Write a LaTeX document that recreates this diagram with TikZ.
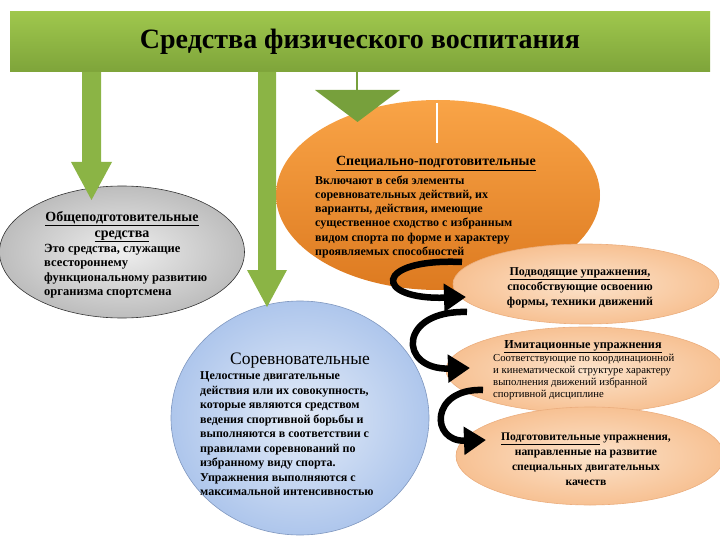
\documentclass[tikz,border=0pt]{standalone}
\usepackage{fontspec}
\setmainfont{Liberation Serif}
\usetikzlibrary{shapes.geometric,arrows.meta}
\definecolor{barTop}{HTML}{9FC74D}
\definecolor{barBot}{HTML}{7EA43A}
\definecolor{arrGreen}{HTML}{8BB445}
\definecolor{arrDark}{HTML}{77A03C}
\definecolor{orTop}{HTML}{F9A447}
\definecolor{orBot}{HTML}{DD7A20}
\definecolor{peachIn}{HTML}{FCE3CB}
\definecolor{peachOut}{HTML}{F7C193}
\definecolor{peachLine}{HTML}{EBAE7E}
\definecolor{greyIn}{HTML}{EEEEEE}
\definecolor{greyOut}{HTML}{BDBDBD}
\definecolor{blueIn}{HTML}{E4ECF8}
\definecolor{blueOut}{HTML}{AEC6EC}
\definecolor{blueLine}{HTML}{7F97BF}
\tikzset{
  oval/.style={ellipse, inner sep=0pt},
  txt/.style={inner sep=0pt},
  curvearrow/.style={line width=6.5pt, -{Triangle[length=22pt,width=27pt]}, black},
  greenarrow/.style={fill=arrGreen},
}
\newcommand{\fsb}[2]{\fontsize{#1}{#2}\selectfont\bfseries}
\newcommand{\fsr}[2]{\fontsize{#1}{#2}\selectfont}
\begin{document}
\begin{tikzpicture}[x=1pt,y=-1pt]
\useasboundingbox (0,0) rectangle (720,540);

% top bar
\node[rectangle, minimum width=700pt, minimum height=60pt, inner sep=0pt,
      top color=barTop, bottom color=barBot, font=\fsb{28}{32}] (bar) at (360,42)
      {Средства физического воспитания};

% orange ellipse
\node[oval, minimum width=324pt, minimum height=190pt, top color=orTop, bottom color=orBot] (orange) at (438,195) {};
\draw[white, line width=2pt] (437,103) coordinate (wl1) -- (437,143) coordinate (wl2);

% grey ellipse
\node[oval, minimum width=245pt, minimum height=132pt, inner color=greyIn, outer color=greyOut, draw=black!80, line width=0.6pt] (grey) at (122,252) {};

% blue ellipse
\node[oval, minimum width=258pt, minimum height=234pt, inner color=blueIn, outer color=blueOut, draw=blueLine, line width=0.6pt] (blue) at (300,418) {};

% peach ellipses
\node[oval, minimum width=266pt, minimum height=80pt, inner color=peachIn, outer color=peachOut, draw=peachLine, line width=0.6pt] (p1) at (586,284) {};
\node[oval, minimum width=278pt, minimum height=86pt, inner color=peachIn, outer color=peachOut, draw=peachLine, line width=0.6pt] (p2) at (585,370) {};
\node[oval, minimum width=268pt, minimum height=98pt, inner color=peachIn, outer color=peachOut, draw=peachLine, line width=0.6pt] (p3) at (590,456) {};

% green block arrows
\fill[greenarrow] (82,72) -- (101,72) -- (101,162) -- (112,162) -- (91.5,200) -- (71,162) -- (82,162) -- cycle;
\fill[greenarrow] (258,72) -- (276,72) -- (276,270) -- (287,270) -- (267,307) -- (247,270) -- (258,270) -- cycle;
\draw[arrDark, line width=2.5pt] (357,72) coordinate (cs) -- (357,92) coordinate (ct);
\fill[arrDark] (315,90) -- (400,90) -- (357.5,122) -- cycle;

% texts
\node[txt, anchor=north, align=center, font=\fsb{14}{16}] (gt) at (122,211)
  {\underline{Общеподготовительные}\\\underline{средства}};
\node[txt, anchor=north west, align=left, font=\fsb{12.5}{14.5}] (gb) at (44,244)
  {Это средства, служащие\\всестороннему\\функциональному развитию\\организма спортсмена};

\node[txt, anchor=north, font=\fsb{14}{16}] (ot) at (436,156.5)
  {\underline{Специально-подготовительные}};
\node[txt, anchor=north west, align=left, font=\fsb{12}{14.2}] (ob) at (315,175.5)
  {Включают в себя элементы\\соревновательных действий, их\\варианты, действия, имеющие\\существенное сходство с избранным\\видом спорта по форме и характеру\\проявляемых способностей};

\node[txt, anchor=north, font=\fsr{17.5}{20}] (bt) at (300,353)
  {Соревновательные};
\node[txt, anchor=north west, align=left, font=\fsb{12}{14.5}] (bb) at (200,371.5)
  {Целостные двигательные\\действия или их совокупность,\\которые являются средством\\ведения спортивной борьбы и\\выполняются в соответствии с\\правилами соревнований по\\избранному виду спорта.\\Упражнения выполняются с\\максимальной интенсивностью};

\node[txt, anchor=north, align=center, font=\fsb{12}{15}] (pt1) at (580,267)
  {\underline{Подводящие упражнения,}\\способствующие освоению\\формы, техники движений};

\node[txt, anchor=north, font=\fsb{12.2}{14}] (pt2) at (583,340)
  {\underline{Имитационные упражнения}};
\node[txt, anchor=north west, align=left, font=\fsr{10.7}{12}] (pb2) at (493,353.5)
  {Соответствующие по координационной\\и кинематической структуре характеру\\выполнения движений избранной\\спортивной дисциплине};

\node[txt, anchor=north, align=center, font=\fsb{11.6}{14.8}] (pt3) at (586,433)
  {\underline{Подготовительные} упражнения,\\направленные на развитие\\специальных двигательных\\качеств};

% curved black arrows
\coordinate (a1s) at (462,262); \coordinate (a1e) at (466,297);
\coordinate (a2s) at (467,312); \coordinate (a2e) at (470,368);
\coordinate (a3s) at (483,390); \coordinate (a3e) at (486,440);
\draw[curvearrow] (a1s) .. controls (373,258) and (373,300) .. (a1e);
\draw[curvearrow] (a2s) .. controls (398,310) and (398,370) .. (a2e);
\draw[curvearrow] (a3s) .. controls (430,388) and (430,442) .. (a3e);
\end{tikzpicture}
\end{document}
